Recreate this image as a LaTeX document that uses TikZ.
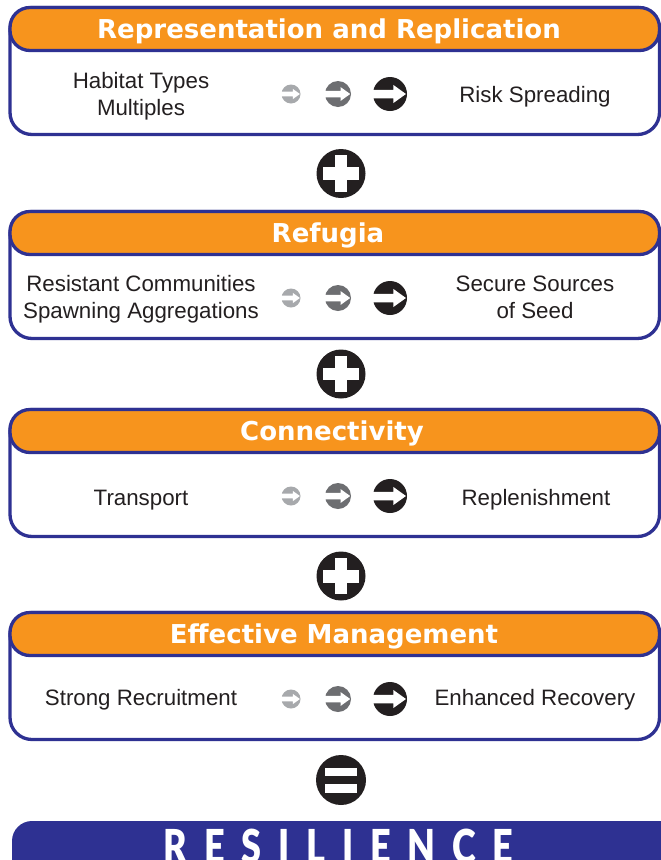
\documentclass[tikz,border=0pt]{standalone}
\usepackage{fontspec}
\usepackage{graphicx}
\setmainfont{Liberation Sans}
\newfontfamily\headfont{DejaVu Sans Bold}
\newfontfamily\resfont{Lato Black}
\definecolor{frameblue}{HTML}{2E3192}
\definecolor{headorange}{HTML}{F7941D}
\definecolor{inkdark}{HTML}{231F20}
\definecolor{greyA}{HTML}{A7A9AC}
\definecolor{greyB}{HTML}{6D6E71}
\definecolor{greyC}{HTML}{231F20}
\begin{document}
\begin{tikzpicture}[x=1pt,y=-1pt,
  frame/.style={draw=frameblue, line width=3.3pt},
  bodytext/.style={text=inkdark, font=\fontsize{22.3}{27}\selectfont, inner sep=0pt, anchor=base},
  headtext/.style={text=white, font=\headfont\fontsize{26}{30}\selectfont, inner sep=0pt, anchor=base},
  arrowicon/.pic={
    \fill[#1] (0,0) circle[radius=1];
    \fill[white] (-1.2,-0.25) -- (0.2,-0.25) -- (0.2,-0.53) -- (0.94,0) -- (0.2,0.53) -- (0.2,0.25) -- (-1.2,0.25) -- cycle;
  },
  plusicon/.pic={
    \fill[inkdark] (0,0) circle[radius=1];
    \fill[white] (-0.75,-0.265) rectangle (0.75,0.265);
    \fill[white] (-0.265,-0.75) rectangle (0.265,0.75);
  },
  equalsicon/.pic={
    \fill[inkdark] (0,0) circle[radius=1];
    \fill[white] (-0.64,-0.5) rectangle (0.64,-0.16);
    \fill[white] (-0.64,0.16) rectangle (0.64,0.5);
  }
]
\useasboundingbox (0,0) rectangle (661,860);
\clip (0,0) rectangle (661,860);

% stage frames, headers and arrow icons
\foreach \t in {7.5, 211.5, 409.5, 612.5} {
  \draw[frame, fill=white, rounded corners=22pt] (10,\t) rectangle (659.5,\t+127);
  \draw[frame, fill=headorange, rounded corners=20pt] (10,\t) rectangle (659.5,\t+43);
  \pic[scale=9.5] at (291,\t+86.5) {arrowicon=greyA};
  \pic[scale=13] at (338,\t+86.5) {arrowicon=greyB};
  \pic[scale=17] at (390,\t+86.5) {arrowicon=greyC};
}

% headings
\node[headtext] (h1) at (329,38) {Representation and Replication};
\node[headtext] (h2) at (328,242) {Refugia};
\node[headtext] (h3) at (332,440) {Connectivity};
\node[headtext] (h4) at (334,643) {Effective Management};

% stage 1
\node[bodytext] (a1) at (141,88) {Habitat Types};
\node[bodytext] (a2) at (141,115) {Multiples};
\node[bodytext] (b1) at (535,102) {Risk Spreading};
% stage 2
\node[bodytext] (c1) at (141,291) {Resistant Communities};
\node[bodytext] (c2) at (141,318) {Spawning Aggregations};
\node[bodytext] (d1) at (535,291) {Secure Sources};
\node[bodytext] (d2) at (535,318) {of Seed};
% stage 3
\node[bodytext] (e1) at (141,505) {Transport};
\node[bodytext] (f1) at (536,505) {Replenishment};
% stage 4
\node[bodytext] (g1) at (141,705) {Strong Recruitment};
\node[bodytext] (k1) at (535,705) {Enhanced Recovery};

% operators
\pic[scale=24.5] at (341,173.5) {plusicon};
\pic[scale=24.5] at (341,374) {plusicon};
\pic[scale=24.5] at (341,576) {plusicon};
\pic[scale=25] at (341,780) {equalsicon};

% result bar
\fill[frameblue, rounded corners=20pt] (12,821) rectangle (720,920);
\node[anchor=north, inner sep=0pt, text=white] (res) at (338.5,829)
  {\scalebox{1}[1.3]{\resfont\fontsize{36}{36}\selectfont\makebox[350pt][s]{R\hfill E\hfill S\hfill I\hfill L\hfill I\hfill E\hfill N\hfill C\hfill E}}};
\end{tikzpicture}
\end{document}
